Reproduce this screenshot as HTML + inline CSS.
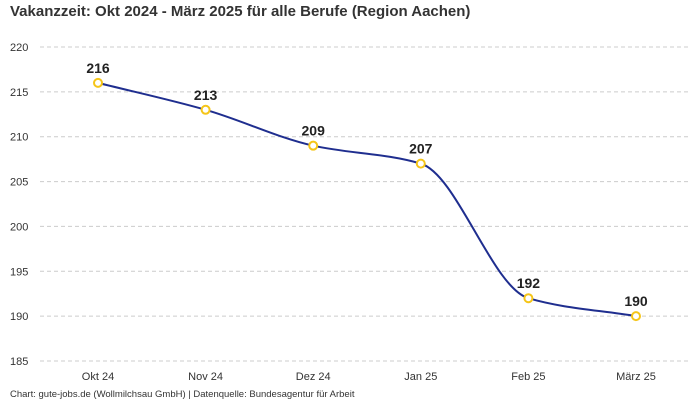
<!DOCTYPE html>
<html><head><meta charset="utf-8"><style>
body{margin:0;background:#fff;}
svg{display:block;font-family:"Liberation Sans",sans-serif;}
</style></head><body>
<svg id="chart" width="700" height="400">
<text x="10" y="16" font-size="15" font-weight="bold" fill="#333">Vakanzzeit: Okt 2024 - März 2025 für alle Berufe (Region Aachen)</text>
<g id="grid"></g><g id="xlabels"></g><g id="series"></g>
<text x="10" y="397" font-size="9.5" fill="#333">Chart: gute-jobs.de (Wollmilchsau GmbH) | Datenquelle: Bundesagentur für Arbeit</text>
</svg>
<script>
const categories=["Okt 24","Nov 24","Dez 24","Jan 25","Feb 25","März 25"];
const values=[216,213,209,207,192,190];
const yTicks=[185,190,195,200,205,210,215,220];
const NS="http://www.w3.org/2000/svg";
const x=i=>98+i*107.6;
const y=v=>47+(220-v)*(314/35);
function mk(t,a,p){const e=document.createElementNS(NS,t);for(const k in a)e.setAttribute(k,a[k]);p.appendChild(e);return e;}
const grid=document.getElementById('grid');
yTicks.forEach(t=>{
 const l=mk('line',{x1:40,x2:690,y1:y(t),y2:y(t),stroke:'#ccc','stroke-dasharray':'4,3'},grid);
 
 
 const tx=mk('text',{x:10,y:y(t)+4,'font-size':11,fill:'#333'},grid);tx.textContent=t;
 
 
});
const xl=document.getElementById('xlabels');
categories.forEach((c,i)=>{
 const tx=mk('text',{x:x(i),y:380,'font-size':11,fill:'#333','text-anchor':'middle'},xl);tx.textContent=c;
 
 
});
// monotone cubic
const px=values.map((v,i)=>x(i)),py=values.map(v=>y(v)),n=values.length;
const d=[],m=[];for(let i=0;i<n-1;i++)d.push((py[i+1]-py[i])/(px[i+1]-px[i]));
for(let i=0;i<n;i++){
 if(i==0)m.push(d[0]);else if(i==n-1)m.push(d[n-2]);
 else m.push(d[i-1]*d[i]<=0?0:(2*d[i-1]*d[i])/(d[i-1]+d[i]));
}
let path=`M${px[0]},${py[0]}`;
for(let i=0;i<n-1;i++){const h=(px[i+1]-px[i])/3;
 path+=` C${px[i]+h},${py[i]+m[i]*h} ${px[i+1]-h},${py[i+1]-m[i+1]*h} ${px[i+1]},${py[i+1]}`;}
const s=document.getElementById('series');
const ln=mk('path',{d:path,fill:'none',stroke:'#1f2e8f','stroke-width':2},s);


values.forEach((v,i)=>{
 const c=mk('circle',{cx:x(i),cy:y(v),r:4,fill:'#fff',stroke:'#f5c518','stroke-width':2},s);
 
 
 const t=mk('text',{x:x(i),y:y(v)-10,'font-size':14,'font-weight':'bold',fill:'#222','text-anchor':'middle'},s);t.textContent=v;
 
 
});
</script>
</body></html>
